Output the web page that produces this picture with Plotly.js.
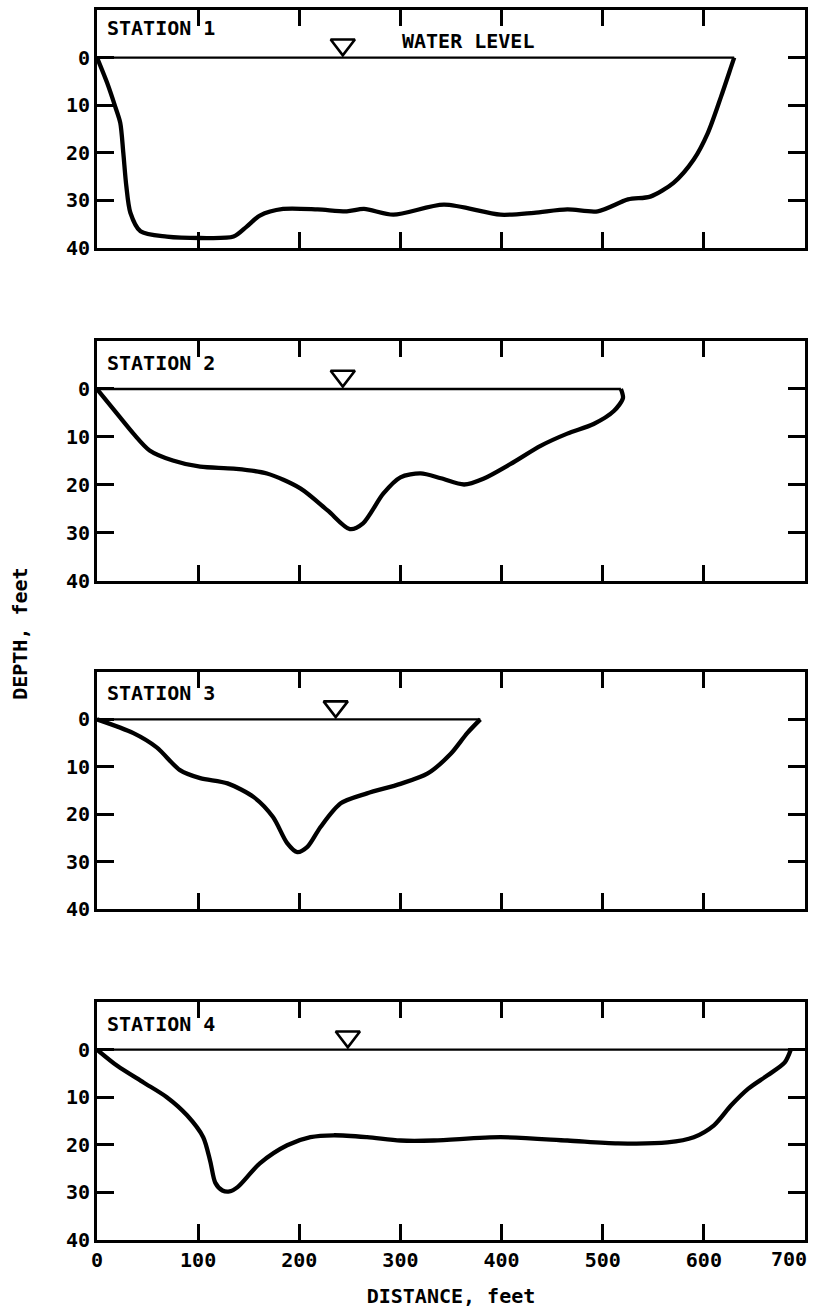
<!DOCTYPE html>
<html>
<head>
<meta charset="utf-8">
<script src="https://cdn.plot.ly/plotly-3.0.1.min.js"></script>
<style>html,body{margin:0;padding:0;background:#fff;}#chart{width:817px;height:1310px;}</style>
</head>
<body>
<div id="chart"></div>
<script>
// ---- data (distance in feet, depth in feet) ----
const stationNames = ['STATION 1', 'STATION 2', 'STATION 3', 'STATION 4'];

const st1Dist  = [0, 10, 18, 23, 26, 29, 33, 43, 69, 102, 135, 148, 161, 184, 218, 247, 264, 293, 343, 399, 432, 465, 495, 525, 547, 570, 590, 604, 617, 627, 630];
const st1Depth = [0, 5.3, 10.3, 13.7, 20, 27, 32.6, 36.5, 37.6, 37.9, 37.6, 35.5, 33.2, 31.8, 31.9, 32.3, 31.8, 33, 30.9, 33, 32.6, 31.9, 32.3, 29.8, 29.2, 26.3, 21.4, 15.8, 8.2, 1.9, 0];

const st2Dist  = [0, 20, 36, 52, 75, 102, 135, 168, 201, 228, 250, 263, 283, 300, 320, 340, 363, 382, 409, 439, 465, 491, 511, 520, 518];
const st2Depth = [0, 5.2, 9.3, 12.8, 14.9, 16.2, 16.6, 17.6, 20.7, 25.3, 29.2, 28, 21.8, 18.4, 17.6, 18.6, 19.9, 18.7, 15.6, 11.8, 9.3, 7.3, 4.6, 1.9, 0];

const st3Dist  = [0, 36, 59, 82, 102, 129, 155, 174, 188, 198, 208, 221, 241, 267, 300, 327, 350, 366, 379];
const st3Depth = [0, 2.9, 5.9, 10.7, 12.4, 13.5, 16.4, 20.6, 26.1, 28, 26.9, 22.7, 17.7, 15.6, 13.6, 11.4, 7.2, 2.9, 0];

const st4Dist  = [0, 20, 46, 69, 89, 105, 112, 117, 124, 131, 139, 161, 188, 211, 234, 267, 300, 333, 399, 465, 515, 564, 590, 610, 627, 644, 663, 680, 686];
const st4Depth = [0, 3.4, 6.9, 10, 13.8, 18.4, 23.5, 28, 29.6, 29.8, 28.9, 23.9, 20.1, 18.4, 18, 18.4, 19.1, 19.1, 18.4, 19.1, 19.7, 19.5, 18.4, 15.9, 11.7, 8.2, 5.4, 2.7, 0];

// water surface extent (feet) and water-level marker position
const waterStart = [0, 0, 0, 0];
const waterEnd   = [630, 518, 379, 700];
const markerDist = [243, 243, 236, 248];
const markerDepth = [-2.7, -2.7, -2.7, -2.7];

const xTicks = [0, 100, 200, 300, 400, 500, 600, 700];
const xTickText = ['0', '100', '200', '300', '400', '500', '600', '700'];
const yTicks = [0, 10, 20, 30, 40];
const yTickText = ['0', '10', '20', '30', '40'];

const profiles = [[st1Dist, st1Depth], [st2Dist, st2Depth], [st3Dist, st3Depth], [st4Dist, st4Depth]];

// ---- figure ----
const FONT = {family: 'DejaVu Sans Mono, monospace', size: 20, color: '#000', weight: 'bold'};
const domains = [[0.8065, 1.0], [0.5358, 0.7309], [0.2691, 0.4618], [0.0, 0.1935]];
const labelDepth = [-6.2, -5.5, -5.6, -5.4];

const traces = [];
const layout = {
  width: 817, height: 1310,
  margin: {l: 97, r: 12, t: 10, b: 70},
  paper_bgcolor: '#fff', plot_bgcolor: '#fff',
  showlegend: false,
  font: FONT,
  annotations: []
};

profiles.forEach((p, i) => {
  const n = i + 1;
  const xa = 'x' + (n === 1 ? '' : n);
  const ya = 'y' + (n === 1 ? '' : n);
  traces.push({
    x: [waterStart[i], waterEnd[i]], y: [0, 0], xaxis: xa, yaxis: ya,
    mode: 'lines', line: {color: '#000', width: 2.4}, hoverinfo: 'skip'
  });
  traces.push({
    x: p[0], y: p[1], xaxis: xa, yaxis: ya,
    mode: 'lines', line: {color: '#000', width: 4.3, shape: 'spline', smoothing: 0.8}
  });
  traces.push({
    x: [markerDist[i]], y: [markerDepth[i]], xaxis: xa, yaxis: ya,
    mode: 'markers', marker: {symbol: 'triangle-down-open', size: 21, color: '#000', line: {color: '#000', width: 2.6}},
    cliponaxis: false
  });

  const xKey = 'xaxis' + (n === 1 ? '' : n);
  const yKey = 'yaxis' + (n === 1 ? '' : n);
  // last tick label (700) is drawn separately, shifted inward like the original
  const xt = xTickText.map((t, k) => (k === xTickText.length - 1 ? '' : t));
  layout[xKey] = {
    domain: [0, 1], anchor: ya, range: [0, 700], tickvals: xTicks, ticktext: xt,
    showticklabels: n === 4, ticks: 'inside', ticklen: 16, tickwidth: 3, tickcolor: '#000',
    showline: true, linewidth: 3, linecolor: '#000', mirror: 'ticks',
    showgrid: false, zeroline: false, tickfont: FONT
  };
  layout[yKey] = {
    domain: domains[i], anchor: xa, range: [40, -10], tickvals: yTicks, ticktext: yTickText,
    ticks: 'inside', ticklen: 17, tickwidth: 3, tickcolor: '#000',
    showline: true, linewidth: 3, linecolor: '#000', mirror: 'ticks',
    showgrid: false, zeroline: false, tickfont: FONT
  };
  layout.annotations.push({
    text: stationNames[i], xref: xa, yref: ya, x: 8, y: labelDepth[i],
    xanchor: 'left', yanchor: 'middle', showarrow: false, font: FONT
  });
});

layout.annotations.push({
  text: xTickText[xTickText.length - 1], xref: 'paper', yref: 'paper',
  x: 1, y: -0.0154, xanchor: 'right', yanchor: 'middle',
  xshift: 4, showarrow: false, font: FONT
});
layout.xaxis4.title = {text: 'DISTANCE, feet', font: FONT, standoff: 18};
layout.annotations.push({
  text: 'WATER LEVEL', xref: 'x', yref: 'y', x: 300, y: -3.4,
  xanchor: 'left', yanchor: 'middle', showarrow: false, font: FONT
});
layout.annotations.push({
  text: 'DEPTH, feet', xref: 'paper', yref: 'paper', x: -0.109, y: 0.4927,
  xanchor: 'center', yanchor: 'middle', textangle: -90, showarrow: false, font: FONT
});

Plotly.newPlot('chart', traces, layout, {staticPlot: true});
</script>
</body>
</html>
